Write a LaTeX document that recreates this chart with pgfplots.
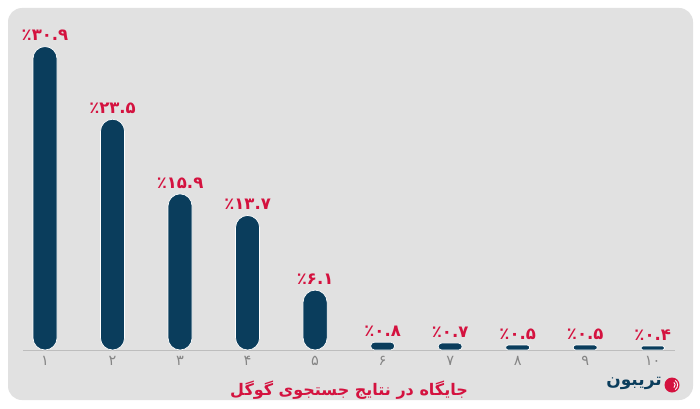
\documentclass[border=0pt]{standalone}
\usepackage{pgfplots}
\pgfplotsset{compat=1.18}
\usepackage{fontspec}
\TeXXeTstate=1
\newfontfamily\arabicfont[Script=Arabic]{DejaVu Sans}
\newfontfamily\digitfont{DejaVu Sans}
\definecolor{panel}{HTML}{E1E1E1}
\definecolor{barblue}{HTML}{0A3D5C}
\definecolor{labelred}{HTML}{D4123F}
\definecolor{tickgray}{HTML}{858585}
\definecolor{axisgray}{HTML}{BDBDBD}

\pgfplotsset{
  pill/.style={fill=barblue, draw=white, line width=0.7pt, bar width=24pt, bar shift=0pt,
    rounded corners=#1,
    nodes near coords style={text=labelred, font=\digitfont\bfseries\fontsize{16.5}{16.5}\selectfont, anchor=south, yshift=2pt}},
}

\begin{document}
\begin{tikzpicture}[x=1pt,y=1pt]
\fill[white] (0,0) rectangle (700,408);
\fill[panel, rounded corners=14pt] (8,8) rectangle (693,400);
\begin{axis}[
  at={(23pt,58pt)}, anchor=south west,
  scale only axis, width=652pt, height=314.24pt,
  xmin=0.674, xmax=10.33, ymin=0, ymax=32,
  ybar, clip=false,
  axis y line=none, axis x line*=bottom,
  x axis line style={axisgray, line width=0.8pt},
  xtick={1,...,10},
  xticklabels={۱,۲,۳,۴,۵,۶,۷,۸,۹,۱۰},
  major tick length=0pt,
  xticklabel style={font=\digitfont\fontsize{14.5}{14.5}\selectfont, text=tickgray, yshift=-3pt},
  xlabel={\arabicfont\bfseries\fontsize{16}{18}\selectfont\beginR جایگاه در نتایج جستجوی گوگل\endR},
  xlabel style={at={(axis description cs:0.5,0)}, anchor=center, yshift=-40pt, text=labelred},
]
\addplot[pill=12pt, nodes near coords={٪۳۰.۹}] coordinates {(1,30.9)};
\addplot[pill=12pt, nodes near coords={٪۲۳.۵}] coordinates {(2,23.5)};
\addplot[pill=12pt, nodes near coords={٪۱۵.۹}] coordinates {(3,15.9)};
\addplot[pill=12pt, nodes near coords={٪۱۳.۷}] coordinates {(4,13.7)};
\addplot[pill=12pt, nodes near coords={٪۶.۱}] coordinates {(5,6.1)};
\addplot[pill=3.9pt, nodes near coords={٪۰.۸}] coordinates {(6,0.8)};
\addplot[pill=3.4pt, nodes near coords={٪۰.۷}] coordinates {(7,0.7)};
\addplot[pill=2.4pt, nodes near coords={٪۰.۵}] coordinates {(8,0.5)};
\addplot[pill=2.4pt, nodes near coords={٪۰.۵}] coordinates {(9,0.5)};
\addplot[pill=1.9pt, nodes near coords={٪۰.۴}] coordinates {(10,0.4)};
\end{axis}
% brand mark
\node[text=barblue, font=\arabicfont\bfseries\fontsize{17}{19}\selectfont] at (634,25) {\beginR تریبون\endR};
\fill[labelred] (672,23) circle (7.5);
\draw[white, line width=0.9pt] (672,23) ++(-55:3.2) arc (-55:55:3.2);
\draw[white, line width=0.9pt] (672,23) ++(-55:5.6) arc (-55:55:5.6);
\end{tikzpicture}
\end{document}
